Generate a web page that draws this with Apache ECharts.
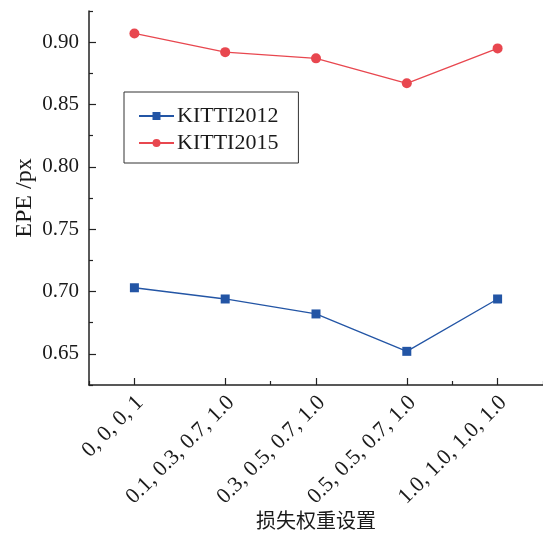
<!DOCTYPE html>
<html>
<head>
<meta charset="utf-8">
<script src="https://cdn.jsdelivr.net/npm/echarts@6/dist/echarts.min.js"></script>
<style>html,body{margin:0;padding:0;background:#fff}#c{width:543px;height:534px}</style>
</head>
<body>
<div id="c"></div>
<script>
const categories = ['0, 0, 0, 1', '0.1, 0.3, 0.7, 1.0', '0.3, 0.5, 0.7, 1.0', '0.5, 0.5, 0.7, 1.0', '1.0, 1.0, 1.0, 1.0'];
const kitti2012 = [0.703, 0.694, 0.682, 0.652, 0.694];
const kitti2015 = [0.907, 0.892, 0.887, 0.867, 0.895];
const yMajorTicks = [0.65, 0.70, 0.75, 0.80, 0.85, 0.90];
const yMinorTicks = [0.625, 0.675, 0.725, 0.775, 0.825, 0.875, 0.925];
const xName = '损失权重设置';
const yName = 'EPE /px';

const serif = '"Liberation Serif", "DejaVu Serif", serif';
const textColor = '#1a1a1a';
const axisColor = '#222';
const blue = '#2355a5';
const red = '#e8474f';

const chart = echarts.init(document.getElementById('c'), null, {renderer: 'canvas'});
chart.setOption({
  animation: false,
  backgroundColor: '#fff',
  grid: {left: 89, right: 0, top: 11, bottom: 149, containLabel: false, outerBoundsMode: 'none'},
  legend: {
    orient: 'vertical',
    left: 124, top: 92,
    padding: [13, 20, 9, 14],
    itemGap: 5,
    itemWidth: 35, itemHeight: 10,
    borderColor: '#333', borderWidth: 1,
    backgroundColor: '#fff',
    textStyle: {fontFamily: serif, fontSize: 22, color: textColor, padding: [0, 0, 0, -2]},
    data: ['KITTI2012', 'KITTI2015']
  },
  xAxis: [{
    type: 'category', data: categories, boundaryGap: true,
    name: xName, nameLocation: 'middle', nameGap: 125, nameMoveOverlap: false,
    nameTextStyle: {fontFamily: '"Noto Sans CJK SC", sans-serif', fontSize: 20, color: textColor},
    axisLine: {lineStyle: {color: axisColor, width: 1.5}},
    axisTick: {show: true, alignWithLabel: true, inside: true, length: 7, lineStyle: {color: axisColor, width: 1.2}},
    axisLabel: {rotate: 45, margin: 20, padding: [0, -8, 0, 0], fontFamily: serif, fontSize: 22, color: textColor, interval: 0},
    splitLine: {show: false}
  }, {
    type: 'category', data: categories, boundaryGap: true, position: 'bottom',
    axisLine: {show: false},
    axisTick: {show: true, alignWithLabel: false, inside: true, length: 4, lineStyle: {color: axisColor, width: 1.2}},
    axisLabel: {show: false},
    splitLine: {show: false}
  }],
  yAxis: [{
    type: 'value', min: 0.625, max: 0.925,
    name: yName, nameLocation: 'middle', nameGap: 52, nameMoveOverlap: false,
    nameTextStyle: {fontFamily: serif, fontSize: 24, color: textColor},
    axisLine: {show: true, lineStyle: {color: axisColor, width: 1.5}},
    axisTick: {show: true, inside: true, length: 7, customValues: yMajorTicks, lineStyle: {color: axisColor, width: 1.2}},
    axisLabel: {customValues: yMajorTicks, margin: 10, fontFamily: serif, fontSize: 21, color: textColor,
      formatter: v => Number(v).toFixed(2)},
    splitLine: {show: false}
  }, {
    type: 'value', min: 0.625, max: 0.925, position: 'left',
    axisLine: {show: false},
    axisTick: {show: true, inside: true, length: 4, customValues: yMinorTicks, lineStyle: {color: axisColor, width: 1.2}},
    axisLabel: {show: false},
    splitLine: {show: false}
  }],
  series: [{
    name: 'KITTI2012', type: 'line', data: kitti2012,
    symbol: 'rect', symbolSize: 9,
    itemStyle: {color: blue}, lineStyle: {color: blue, width: 1.3}
  }, {
    name: 'KITTI2015', type: 'line', data: kitti2015,
    symbol: 'circle', symbolSize: 10,
    itemStyle: {color: red}, lineStyle: {color: red, width: 1.3}
  }]
});
</script>
</body>
</html>
